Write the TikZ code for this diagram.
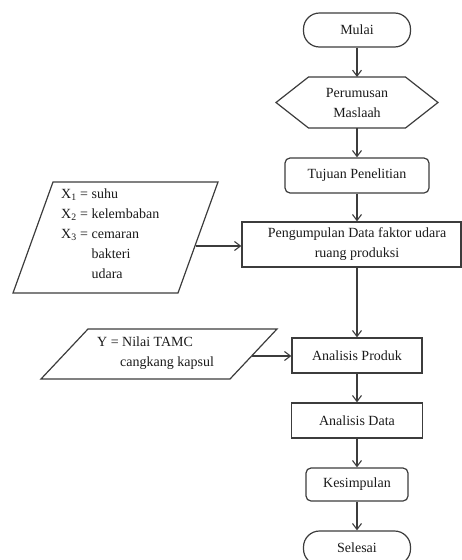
\documentclass[tikz,border=0pt]{standalone}
\usepackage{fontspec}
\setmainfont{Liberation Serif}
\usetikzlibrary{arrows.meta,calc}
\definecolor{lncol}{HTML}{3C3C3C}
\definecolor{txtcol}{HTML}{1A1A1A}
\begin{document}
\begin{tikzpicture}[x=1pt,y=-1pt,
  every node/.style={font=\fontsize{14}{20}\selectfont, text=txtcol, inner sep=0pt},
  ln/.style={draw=lncol, line width=1.2pt},
  arr/.style={draw=lncol, line width=1.1pt, -{Straight Barb[length=6pt,width=9pt,line width=1.1pt]}},
  term/.style={ln, rounded corners=16pt, minimum width=107pt, minimum height=34pt},
  proc/.style={ln, rounded corners=5pt},
  box/.style={ln}]
\useasboundingbox (0,0) rectangle (462,560);
\clip (0,0) rectangle (462,560);

% main column
\node[term] (mulai) at (357,30) {Mulai};
\node[align=center] (rumus) at (357,102.5) {Perumusan\\Maslaah};
\draw[ln] ($(rumus)+(-81,0)$) -- ($(rumus)+(-48.5,-25.5)$) -- ($(rumus)+(48.5,-25.5)$)
  -- ($(rumus)+(81,0)$) -- ($(rumus)+(48.5,25.5)$) -- ($(rumus)+(-48.5,25.5)$) -- cycle;
\coordinate (rumusTop) at ($(rumus)+(0,-25.5)$);
\coordinate (rumusBot) at ($(rumus)+(0,25.5)$);
\node[proc, minimum width=144pt, minimum height=35pt] (tujuan) at (357,175.5) {Tujuan Penelitian};
\node[box, minimum width=219pt, minimum height=45pt, align=center] (kumpul) at (351.5,244.5)
  {\hspace*{11pt}Pengumpulan Data faktor udara\\\hspace*{11pt}ruang produksi};
\node[box, minimum width=130pt, minimum height=35pt] (produk) at (357,355.5) {Analisis Produk};
\node[box, minimum width=131pt, minimum height=35pt] (data) at (357,420.5) {Analisis Data};
\node[proc, minimum width=102pt, minimum height=33pt] (simpul) at (357,484.5) {Kesimpulan};
\node[term] (selesai) at (357,548) {Selesai};

% input X
\draw[ln] (53,182) -- (218,182) -- (178,293) -- (13,293) -- cycle;
\node[anchor=west, align=left] (xin) at (61,235)
  {X\textsubscript{1} = suhu\\
   X\textsubscript{2} = kelembaban\\
   X\textsubscript{3} = cemaran\\
   \phantom{X\textsubscript{3} = }bakteri\\
   \phantom{X\textsubscript{3} = }udara};
\coordinate (xout) at (196,246);

% input Y
\draw[ln] (88,329) -- (277,329) -- (230,379) -- (41,379) -- cycle;
\node[anchor=west, align=left] (yin) at (97,353.5)
  {Y = Nilai TAMC\\\hspace*{23pt}cangkang kapsul};
\coordinate (yout) at (252,356);

% connectors
\draw[arr] (mulai.south) -- (rumusTop);
\draw[arr] (rumusBot) -- (tujuan.north);
\draw[arr] (tujuan.south) -- (tujuan.south |- kumpul.north);
\draw[arr] (kumpul.south -| produk.north) -- (produk.north);
\draw[arr] (produk.south) -- (data.north);
\draw[arr] (data.south) -- (simpul.north);
\draw[arr] (simpul.south) -- (selesai.north);
\draw[arr] (xout) -- (xout -| kumpul.west);
\draw[arr] (yout) -- (yout -| produk.west);
\end{tikzpicture}
\end{document}
